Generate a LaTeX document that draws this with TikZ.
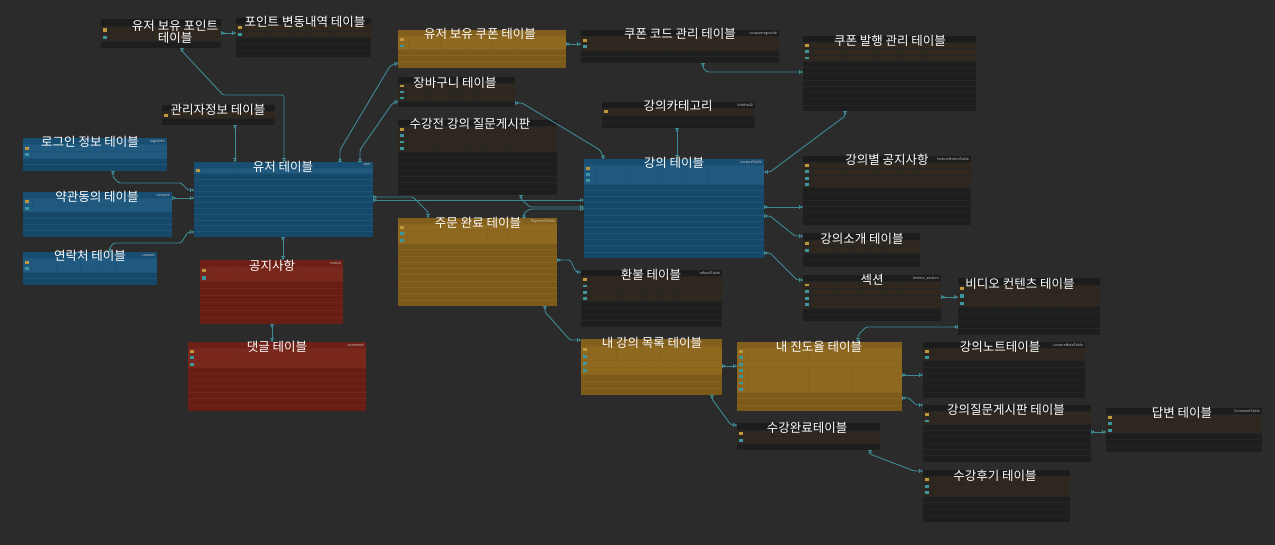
\documentclass[tikz,border=0pt]{standalone}
\usepackage{fontspec}
\newfontfamily\kr{Noto Sans CJK KR}
\usetikzlibrary{fit,arrows.meta}
\definecolor{bg}{RGB}{43,43,43}
\definecolor{darkbody}{RGB}{30,30,30}
\definecolor{darkkey}{RGB}{48,39,31}
\definecolor{darkhead}{RGB}{28,28,28}
\definecolor{darkrule}{RGB}{37,37,37}
\definecolor{bluebody}{RGB}{22,72,106}
\definecolor{bluekey}{RGB}{33,90,128}
\definecolor{bluehead}{RGB}{24,78,114}
\definecolor{bluerule}{RGB}{30,84,120}
\definecolor{goldbody}{RGB}{124,90,26}
\definecolor{goldkey}{RGB}{144,105,32}
\definecolor{goldhead}{RGB}{130,95,28}
\definecolor{goldrule}{RGB}{136,100,32}
\definecolor{redbody}{RGB}{104,30,20}
\definecolor{redkey}{RGB}{122,40,28}
\definecolor{redhead}{RGB}{110,32,22}
\definecolor{redrule}{RGB}{116,38,28}
\definecolor{link}{RGB}{62,138,148}
\definecolor{pkicon}{RGB}{190,150,60}
\definecolor{fkicon}{RGB}{60,150,160}
\definecolor{tagtext}{RGB}{200,200,200}

\tikzset{
  title/.style={text=white, font=\kr\fontsize{12.5}{14}\selectfont, inner sep=0pt},
  tag/.style={text=tagtext, font=\kr\fontsize{3.6}{4}\selectfont, inner sep=0pt, anchor=east},
  link/.style={draw=link, line width=0.9pt, rounded corners=1.5pt,
    {Bar[width=4pt,line width=0.8pt]Circle[length=2.6pt]}-{Bar[width=4pt,line width=0.8pt]Circle[length=2.6pt]}},
}

% one entity box: name, x1, y1, x2, y2, rows, key rows, theme, table id
\newcommand\erdtable[9]{%
  \pgfmathsetmacro\rh{(#5-#3)/(#6+1)}%
  \fill[#8body] (#2,#3) rectangle (#4,#5);
  \fill[#8head] (#2,#3) rectangle (#4,#3+\rh);
  \fill[#8key] (#2,#3+\rh) rectangle (#4,#3+\rh+#7*\rh);
  \foreach \i in {1,...,#6}{\draw[#8rule, line width=0.35pt] (#2,#3+\i*\rh) -- (#4,#3+\i*\rh);}
  \foreach \f in {0.06,0.25,0.43,0.56,0.69}{\draw[#8rule, line width=0.35pt] (#2+\f*#4-\f*#2,#3+\rh) -- (#2+\f*#4-\f*#2,#3+\rh+#7*\rh);}
  \foreach \i in {1,...,#7}{%
    \ifnum\i=1 \def\ic{pkicon}\else\def\ic{fkicon}\fi
    \fill[\ic] (#2+1.8,#3+\i*\rh+0.3*\rh) rectangle (#2+6,#3+\i*\rh+0.75*\rh);}
  \node[fit={(#2,#3)(#4,#5)}, inner sep=0pt] (#1) {};
  \node[tag] (#1-id) at (#4-2,#3+0.5*\rh) {#9};
}

\begin{document}
\begin{tikzpicture}[x=1pt,y=-1pt]
\useasboundingbox (0,0) rectangle (1275,545);
\fill[bg] (0,0) rectangle (1275,545);

% ---------- entities ----------
\erdtable{upt}{101}{19}{221}{48}{3}{2}{dark}{}
\erdtable{ptlog}{236}{18}{371}{57}{5}{2}{dark}{}
\erdtable{admin}{162}{105}{275}{125}{2}{1}{dark}{}
\erdtable{ucoupon}{398}{30}{566}{68}{5}{2}{gold}{}
\erdtable{cart}{398}{77}{515}{107}{4}{3}{dark}{}
\erdtable{qnapre}{398}{120}{557}{195}{11}{4}{dark}{}
\erdtable{payment}{398}{218}{557}{306}{13}{3}{gold}{PaymentTable}
\erdtable{ccode}{581}{30}{779}{63}{4}{2}{dark}{couponregicode}
\erdtable{cissue}{803}{36}{976}{111}{11}{3}{dark}{}
\erdtable{category}{602}{102}{755}{128}{3}{1}{dark}{Untitled2}
\erdtable{lecture}{584}{159}{764}{258}{15}{3}{blue}{LectureTable}
\erdtable{lnotice}{803}{156}{971}{225}{10}{4}{dark}{lectureNoticeTable}
\erdtable{intro}{803}{233}{920}{267}{4}{2}{dark}{}
\erdtable{refund}{581}{270}{722}{327}{8}{4}{dark}{refundTable}
\erdtable{section}{803}{275}{941}{321}{6}{4}{dark}{lecture\_section}
\erdtable{video}{958}{278}{1100}{335}{7}{3}{dark}{}
\erdtable{mylec}{581}{339}{722}{395}{7}{4}{gold}{}
\erdtable{progress}{737}{342}{902}{411}{10}{7}{gold}{}
\erdtable{complete}{737}{423}{880}{450}{3}{2}{dark}{}
\erdtable{note}{923}{342}{1085}{398}{8}{2}{dark}{LectureNoteTable}
\erdtable{qna}{923}{405}{1091}{462}{8}{2}{dark}{}
\erdtable{review}{923}{470}{1070}{522}{7}{3}{dark}{}
\erdtable{answer}{1106}{408}{1262}{452}{6}{3}{dark}{CommentTable}
\erdtable{user}{194}{162}{373}{237}{12}{1}{blue}{user}
\erdtable{login}{23}{138}{167}{171}{4}{2}{blue}{loginInfo}
\erdtable{consent}{23}{192}{172}{237}{6}{2}{blue}{consent}
\erdtable{contact}{23}{252}{157}{285}{4}{2}{blue}{contact}
\erdtable{notice}{200}{260}{343}{324}{8}{2}{red}{notice}
\erdtable{comment}{188}{342}{366}{411}{10}{3}{red}{comment}

% ---------- relations ----------
\draw[link] (upt.east |- 0,33) -- (ptlog.west |- 0,33);
\draw[link] (upt.south -| 182,0) -- (182,51) -- (223,95) -- (284,95) -- (user.north -| 284,0);
\draw[link] (admin.south -| 235,0) -- (user.north -| 235,0);
\draw[link] (user.north -| 340,0) -- (340,150) -- (390,66) -- (ucoupon.west |- 0,63);
\draw[link] (user.north -| 360,0) -- (360,150) -- (392,104) -- (cart.west |- 0,101);
\draw[link] (user.east |- 0,200) -- (lecture.west |- 0,200);
\draw[link] (user.east |- 0,197) -- (413,197) -- (428,212) -- (payment.north -| 428,0);
\draw[link] (qnapre.south -| 521,0) -- (521,199) -- (530,207) -- (lecture.west |- 0,207);
\draw[link] (payment.north -| 524,0) -- (524,213) -- (530,209) -- (lecture.west |- 0,209);
\draw[link] (login.south -| 113,0) -- (113,177) -- (119,183) -- (181,183) -- (188,190) -- (user.west |- 0,190);
\draw[link] (consent.east |- 0,198) -- (user.west |- 0,198);
\draw[link] (contact.north -| 110,0) -- (110,247) -- (114,243) -- (181,243) -- (188,232) -- (user.west |- 0,232);
\draw[link] (user.south -| 283,0) -- (notice.north -| 283,0);
\draw[link] (notice.south -| 272,0) -- (comment.north -| 272,0);
\draw[link] (ucoupon.east |- 0,44) -- (ccode.west |- 0,44);
\draw[link] (ccode.south -| 703,0) -- (703,68) -- (707,72) -- (cissue.west |- 0,72);
\draw[link] (cissue.south -| 845,0) -- (845,116) -- (770,172) -- (lecture.east |- 0,172);
\draw[link] (category.south -| 677,0) -- (lecture.north -| 677,0);
\draw[link] (cart.east |- 0,103) -- (522,103) -- (600,150) -- (lecture.north -| 604,0);
\draw[link] (lecture.east |- 0,207) -- (lnotice.west |- 0,207);
\draw[link] (lecture.east |- 0,216) -- (770,216) -- (795,236) -- (intro.west |- 0,236);
\draw[link] (lecture.east |- 0,253) -- (770,253) -- (797,280) -- (section.west |- 0,280);
\draw[link] (section.east |- 0,297) -- (video.west |- 0,297);
\draw[link] (video.west |- 0,327) -- (866,327) -- (858,335) -- (progress.north -| 858,0);
\draw[link] (mylec.east |- 0,366) -- (progress.west |- 0,366);
\draw[link] (progress.east |- 0,375) -- (note.west |- 0,375);
\draw[link] (progress.east |- 0,398) -- (909,398) -- (916,405) -- (qna.west |- 0,405);
\draw[link] (qna.east |- 0,432) -- (answer.west |- 0,432);
\draw[link] (mylec.south -| 712,0) -- (712,399) -- (731,425) -- (complete.west |- 0,425);
\draw[link] (complete.south -| 870,0) -- (870,454) -- (914,471) -- (review.west |- 0,471);
\draw[link] (payment.east |- 0,260) -- (570,260) -- (576,272) -- (refund.west |- 0,272);
\draw[link] (payment.south -| 545,0) -- (545,312) -- (570,340) -- (mylec.west |- 0,340);

% ---------- table titles ----------
\node[title, align=center] (t-upt) at (175,32) {유저 보유 포인트\\[-2pt]테이블};
\node[title] (t-ptlog) at (305,22) {포인트 변동내역 테이블};
\node[title] (t-admin) at (218,110) {관리자정보 테이블};
\node[title] (t-ucoupon) at (480,34) {유저 보유 쿠폰 테이블};
\node[title] (t-cart) at (455,83) {장바구니 테이블};
\node[title] (t-qnapre) at (470,124) {수강전 강의 질문게시판};
\node[title] (t-payment) at (478,223) {주문 완료 테이블};
\node[title] (t-ccode) at (680,34) {쿠폰 코드 관리 테이블};
\node[title] (t-cissue) at (890,41) {쿠폰 발행 관리 테이블};
\node[title] (t-category) at (678,106) {강의카테고리};
\node[title] (t-lecture) at (674,163) {강의 테이블};
\node[title] (t-lnotice) at (887,160) {강의별 공지사항};
\node[title] (t-intro) at (862,239) {강의소개 테이블};
\node[title] (t-refund) at (651,275) {환불 테이블};
\node[title] (t-section) at (872,280) {섹션};
\node[title] (t-video) at (1020,284) {비디오 컨텐츠 테이블};
\node[title] (t-mylec) at (652,343) {내 강의 목록 테이블};
\node[title] (t-progress) at (819,347) {내 진도율 테이블};
\node[title] (t-complete) at (807,428) {수강완료테이블};
\node[title] (t-note) at (1000,347) {강의노트테이블};
\node[title] (t-qna) at (1006,410) {강의질문게시판 테이블};
\node[title] (t-review) at (995,476) {수강후기 테이블};
\node[title] (t-answer) at (1182,413) {답변 테이블};
\node[title] (t-user) at (283,167) {유저 테이블};
\node[title] (t-login) at (90,142) {로그인 정보 테이블};
\node[title] (t-consent) at (97,197) {약관동의 테이블};
\node[title] (t-contact) at (90,256) {연락처 테이블};
\node[title] (t-notice) at (272,266) {공지사항};
\node[title] (t-comment) at (277,347) {댓글 테이블};
\end{tikzpicture}
\end{document}
